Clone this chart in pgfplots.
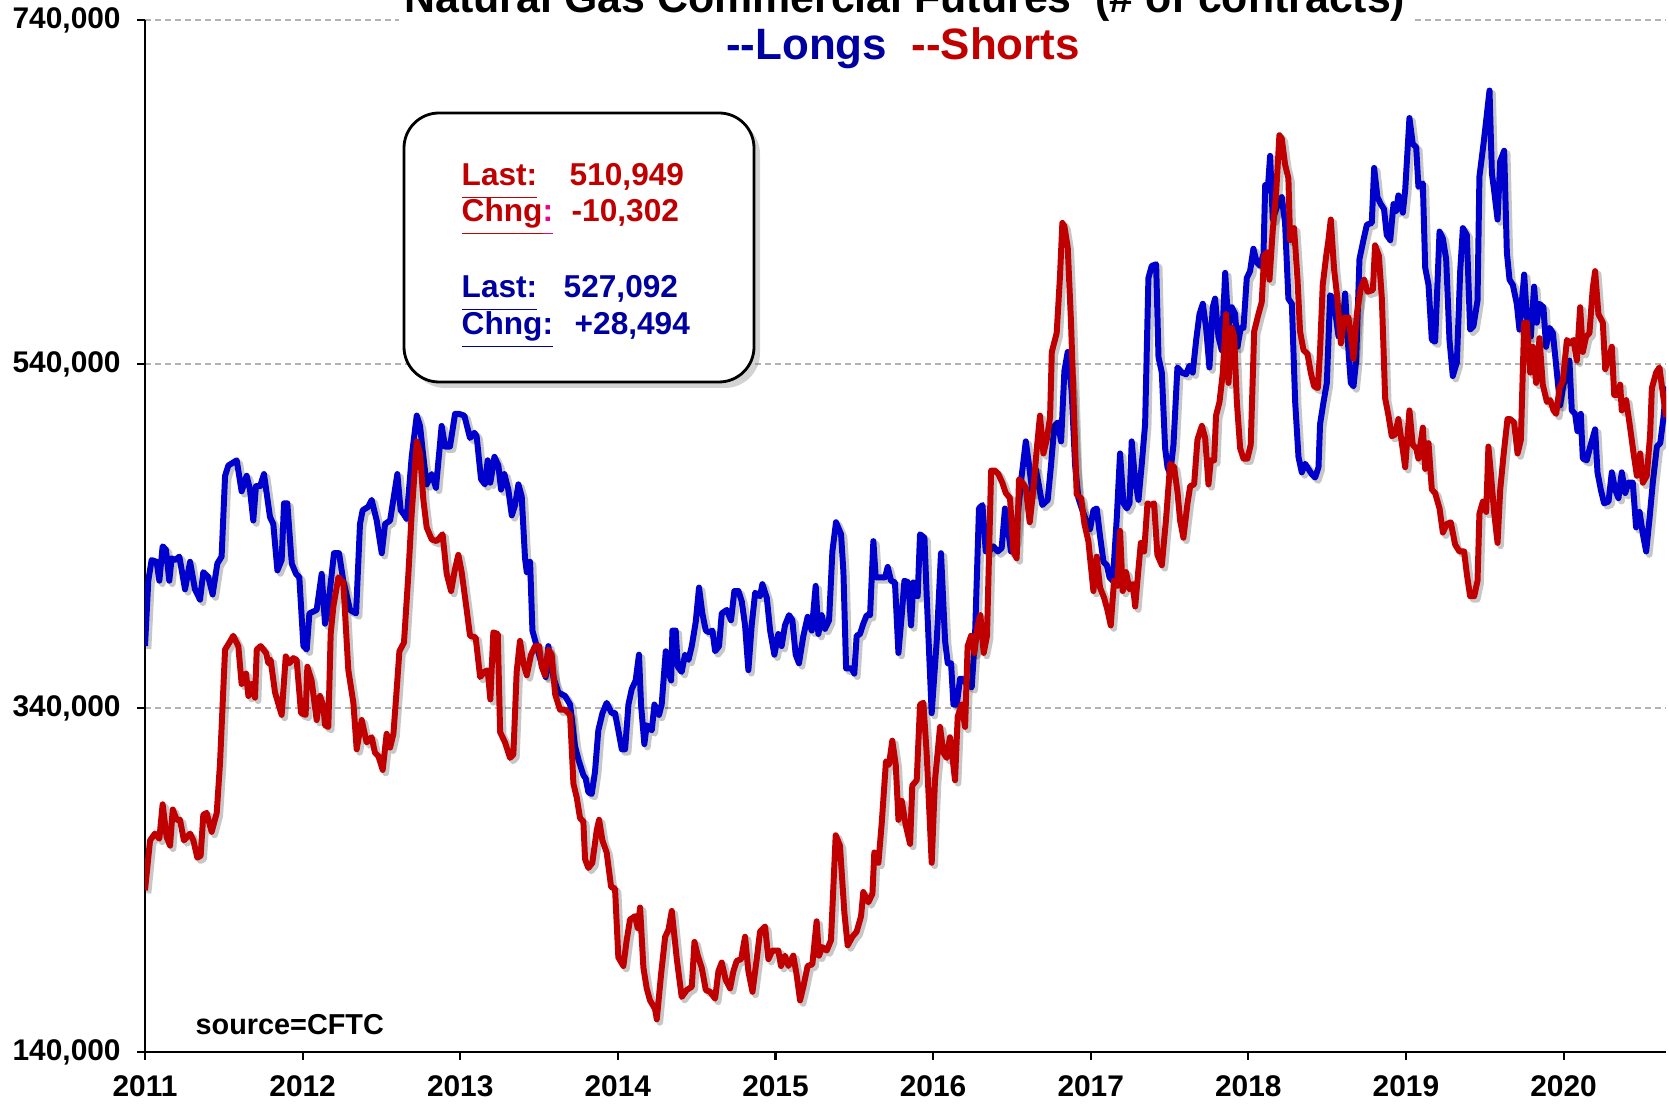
\documentclass[border=0pt]{standalone}
\usepackage{fontspec}
\setmainfont{Liberation Sans}
\usepackage{pgfplots}
\pgfplotsset{compat=1.18}
\usepackage{pgfplotstable}
\usetikzlibrary{shadows}
\definecolor{lblue}{RGB}{0,0,204}
\definecolor{lred}{RGB}{192,0,0}
\definecolor{tblue}{RGB}{0,0,160}
\definecolor{tred}{RGB}{192,0,0}
\newcommand{\myul}[1]{\underline{#1\vphantom{g}}}

\pgfplotstableread{
x y
2011.000 376
2011.021 414
2011.042 426
2011.074 425
2011.091 414
2011.112 434
2011.133 432
2011.154 414
2011.169 427
2011.190 426
2011.218 428
2011.254 409
2011.286 425
2011.317 409
2011.349 403
2011.370 419
2011.402 416
2011.429 406
2011.459 424
2011.486 428
2011.508 475
2011.529 481
2011.582 484
2011.613 466
2011.645 475
2011.666 467
2011.687 449
2011.704 469
2011.730 469
2011.755 476
2011.793 451
2011.814 447
2011.840 420
2011.867 426
2011.882 459
2011.903 459
2011.931 424
2011.958 418
2011.979 416
2012.005 376
2012.026 374
2012.043 395
2012.089 397
2012.121 418
2012.142 389
2012.157 395
2012.199 430
2012.231 430
2012.258 414
2012.301 397
2012.339 395
2012.364 447
2012.381 455
2012.417 457
2012.438 461
2012.470 449
2012.502 430
2012.523 447
2012.555 449
2012.601 476
2012.622 455
2012.639 453
2012.660 450
2012.692 486
2012.724 510
2012.745 504
2012.766 486
2012.787 470
2012.819 476
2012.846 468
2012.882 504
2012.904 492
2012.935 492
2012.967 511
2012.992 511
2013.026 510
2013.062 497
2013.090 500
2013.104 498
2013.132 473
2013.157 470
2013.174 484
2013.191 471
2013.217 486
2013.242 481
2013.259 467
2013.280 476
2013.305 467
2013.327 452
2013.348 458
2013.369 470
2013.390 463
2013.411 427
2013.422 419
2013.443 425
2013.458 385
2013.485 376
2013.521 364
2013.542 358
2013.559 376
2013.576 364
2013.597 356
2013.623 349
2013.665 347
2013.697 342
2013.728 318
2013.750 310
2013.781 301
2013.796 299
2013.813 291
2013.834 290
2013.855 303
2013.876 327
2013.902 337
2013.929 343
2013.961 337
2013.982 337
2014.003 327
2014.025 316
2014.046 316
2014.067 342
2014.088 351
2014.113 356
2014.134 371
2014.147 342
2014.168 319
2014.183 330
2014.215 327
2014.232 342
2014.261 336
2014.278 342
2014.304 373
2014.321 361
2014.338 356
2014.346 385
2014.367 385
2014.380 364
2014.405 361
2014.426 371
2014.448 368
2014.469 376
2014.494 390
2014.515 410
2014.536 395
2014.558 385
2014.579 384
2014.600 385
2014.617 373
2014.642 376
2014.659 395
2014.691 397
2014.718 391
2014.739 408
2014.765 408
2014.786 402
2014.807 388
2014.828 362
2014.849 388
2014.871 407
2014.902 405
2014.917 412
2014.945 404
2014.966 385
2014.993 371
2015.018 383
2015.039 376
2015.060 388
2015.086 394
2015.107 391
2015.128 371
2015.149 366
2015.177 382
2015.204 393
2015.230 385
2015.255 411
2015.272 383
2015.293 394
2015.314 386
2015.340 391
2015.361 431
2015.384 448
2015.416 441
2015.431 419
2015.448 363
2015.483 363
2015.500 360
2015.515 382
2015.536 383
2015.557 389
2015.579 394
2015.600 394
2015.621 437
2015.636 416
2015.663 416
2015.695 416
2015.712 422
2015.733 414
2015.758 413
2015.780 372
2015.801 394
2015.818 414
2015.843 413
2015.860 388
2015.875 413
2015.902 405
2015.917 441
2015.945 439
2015.959 406
2015.991 337
2016.023 379
2016.050 430
2016.076 379
2016.093 366
2016.114 366
2016.129 342
2016.150 342
2016.171 357
2016.186 357
2016.213 354
2016.245 352
2016.266 382
2016.291 456
2016.313 458
2016.334 431
2016.355 431
2016.382 434
2016.410 431
2016.435 433
2016.456 456
2016.478 442
2016.494 431
2016.520 437
2016.562 475
2016.588 495
2016.609 481
2016.630 465
2016.651 479
2016.668 471
2016.693 458
2016.727 461
2016.748 481
2016.769 504
2016.791 506
2016.812 495
2016.833 536
2016.854 547
2016.879 524
2016.901 481
2016.922 462
2016.943 456
2016.975 448
2016.996 444
2017.017 455
2017.038 456
2017.059 440
2017.081 425
2017.102 423
2017.119 416
2017.140 414
2017.165 450
2017.186 488
2017.208 459
2017.229 456
2017.246 459
2017.260 495
2017.282 472
2017.303 461
2017.324 482
2017.345 505
2017.366 590
2017.387 597
2017.415 598
2017.430 544
2017.451 535
2017.472 491
2017.487 480
2017.504 476
2017.525 493
2017.550 538
2017.578 535
2017.605 534
2017.626 539
2017.647 535
2017.669 554
2017.690 569
2017.711 575
2017.732 561
2017.753 538
2017.774 573
2017.789 578
2017.810 556
2017.831 548
2017.853 593
2017.874 561
2017.895 573
2017.916 569
2017.931 550
2017.952 561
2017.969 561
2017.990 590
2018.011 594
2018.032 607
2018.054 599
2018.075 597
2018.096 604
2018.107 644
2018.123 641
2018.138 661
2018.155 624
2018.180 631
2018.212 637
2018.233 622
2018.254 578
2018.276 575
2018.297 518
2018.318 486
2018.339 477
2018.360 482
2018.381 479
2018.402 476
2018.424 474
2018.445 480
2018.455 505
2018.477 518
2018.498 529
2018.519 580
2018.540 578
2018.572 556
2018.593 556
2018.614 581
2018.635 548
2018.650 529
2018.667 527
2018.684 542
2018.705 601
2018.730 612
2018.752 621
2018.783 622
2018.798 654
2018.819 637
2018.840 633
2018.861 630
2018.878 615
2018.900 612
2018.921 633
2018.938 629
2018.952 638
2018.980 628
2018.995 641
2019.022 683
2019.043 668
2019.065 666
2019.079 643
2019.107 645
2019.122 596
2019.143 586
2019.164 554
2019.185 553
2019.213 617
2019.234 613
2019.255 601
2019.276 554
2019.297 533
2019.323 541
2019.344 594
2019.361 619
2019.386 615
2019.407 560
2019.428 562
2019.454 577
2019.466 649
2019.492 668
2019.513 685
2019.530 699
2019.545 651
2019.559 641
2019.581 624
2019.598 658
2019.623 664
2019.640 605
2019.657 589
2019.678 586
2019.703 575
2019.720 560
2019.750 592
2019.767 567
2019.792 556
2019.813 585
2019.830 564
2019.847 575
2019.872 573
2019.889 550
2019.911 561
2019.932 558
2019.953 539
2019.978 516
2019.999 528
2020.021 533
2020.037 542
2020.052 513
2020.073 511
2020.088 501
2020.109 511
2020.122 485
2020.147 484
2020.169 492
2020.200 502
2020.215 477
2020.236 467
2020.257 459
2020.285 460
2020.306 477
2020.327 467
2020.348 462
2020.369 477
2020.391 465
2020.412 471
2020.439 471
2020.460 445
2020.482 454
2020.503 441
2020.524 431
2020.545 450
2020.566 471
2020.592 492
2020.613 494
2020.634 509
2020.651 527
}\longs

\pgfplotstableread{
x y
2011.000 234
2011.032 263
2011.063 267
2011.091 264
2011.112 284
2011.137 265
2011.159 260
2011.176 281
2011.201 275
2011.222 275
2011.247 263
2011.286 267
2011.307 263
2011.332 253
2011.353 254
2011.370 278
2011.391 279
2011.423 268
2011.455 279
2011.476 308
2011.508 374
2011.535 378
2011.560 382
2011.592 376
2011.613 354
2011.641 360
2011.656 347
2011.677 354
2011.698 346
2011.709 374
2011.734 376
2011.768 372
2011.783 366
2011.797 368
2011.825 349
2011.867 336
2011.893 370
2011.916 366
2011.941 369
2011.962 368
2011.990 337
2012.019 336
2012.030 364
2012.057 356
2012.089 333
2012.110 347
2012.132 341
2012.142 330
2012.163 329
2012.178 383
2012.195 399
2012.227 416
2012.258 413
2012.290 362
2012.322 343
2012.343 316
2012.375 333
2012.406 320
2012.438 323
2012.459 314
2012.481 312
2012.508 304
2012.533 325
2012.555 317
2012.576 325
2012.597 351
2012.614 373
2012.643 378
2012.671 418
2012.692 453
2012.724 495
2012.745 488
2012.766 461
2012.787 445
2012.819 438
2012.850 437
2012.888 441
2012.914 418
2012.942 408
2012.967 421
2012.988 429
2013.009 419
2013.041 397
2013.062 382
2013.098 381
2013.126 358
2013.153 361
2013.174 362
2013.191 345
2013.210 384
2013.238 383
2013.253 326
2013.284 320
2013.316 311
2013.337 313
2013.358 361
2013.379 379
2013.401 366
2013.422 359
2013.449 371
2013.475 376
2013.500 376
2013.517 364
2013.538 359
2013.559 374
2013.580 371
2013.602 348
2013.633 339
2013.665 339
2013.697 336
2013.718 296
2013.739 288
2013.760 276
2013.781 274
2013.792 252
2013.813 247
2013.838 250
2013.866 269
2013.881 275
2013.902 263
2013.929 256
2013.957 236
2013.982 235
2014.003 195
2014.035 190
2014.056 205
2014.077 217
2014.109 219
2014.126 212
2014.141 224
2014.162 189
2014.183 177
2014.204 170
2014.236 165
2014.247 159
2014.274 185
2014.300 207
2014.321 211
2014.342 222
2014.374 194
2014.405 172
2014.437 176
2014.469 178
2014.486 204
2014.507 196
2014.532 189
2014.558 176
2014.585 175
2014.617 171
2014.638 187
2014.659 192
2014.684 182
2014.712 177
2014.733 187
2014.754 193
2014.782 194
2014.807 207
2014.828 187
2014.854 175
2014.881 194
2014.902 210
2014.934 213
2014.955 194
2014.980 199
2015.018 199
2015.035 190
2015.060 196
2015.082 190
2015.113 196
2015.134 185
2015.156 170
2015.177 178
2015.204 190
2015.234 191
2015.261 216
2015.276 196
2015.297 201
2015.325 199
2015.352 205
2015.382 266
2015.409 260
2015.437 221
2015.458 202
2015.488 207
2015.515 210
2015.543 219
2015.557 233
2015.589 227
2015.615 232
2015.627 256
2015.653 250
2015.674 273
2015.701 309
2015.720 307
2015.741 321
2015.763 307
2015.780 275
2015.801 286
2015.826 272
2015.854 261
2015.868 295
2015.896 298
2015.917 342
2015.938 343
2015.959 314
2015.991 250
2016.012 298
2016.044 329
2016.065 314
2016.086 311
2016.107 323
2016.122 312
2016.139 298
2016.156 335
2016.181 342
2016.203 329
2016.219 376
2016.241 382
2016.262 372
2016.283 388
2016.300 394
2016.321 372
2016.342 382
2016.368 478
2016.393 478
2016.414 476
2016.439 471
2016.461 465
2016.488 462
2016.509 431
2016.530 427
2016.545 473
2016.566 471
2016.588 468
2016.613 448
2016.636 467
2016.657 490
2016.678 510
2016.700 488
2016.721 496
2016.742 509
2016.753 547
2016.784 558
2016.805 591
2016.820 622
2016.833 620
2016.854 608
2016.875 564
2016.896 506
2016.911 464
2016.939 462
2016.960 447
2016.985 437
2017.017 408
2017.038 428
2017.059 410
2017.085 404
2017.106 397
2017.127 388
2017.148 414
2017.169 411
2017.186 443
2017.203 408
2017.224 419
2017.246 409
2017.267 412
2017.282 399
2017.303 421
2017.318 436
2017.339 431
2017.360 459
2017.381 458
2017.402 459
2017.423 429
2017.451 423
2017.478 450
2017.504 482
2017.529 480
2017.550 466
2017.567 449
2017.588 439
2017.614 459
2017.631 469
2017.656 470
2017.677 496
2017.705 504
2017.726 497
2017.747 470
2017.762 484
2017.783 484
2017.795 510
2017.817 518
2017.838 535
2017.859 569
2017.874 529
2017.895 561
2017.910 556
2017.927 518
2017.948 491
2017.969 485
2017.994 485
2018.015 493
2018.037 559
2018.064 569
2018.085 576
2018.100 603
2018.121 605
2018.134 589
2018.155 618
2018.176 639
2018.197 673
2018.212 671
2018.233 656
2018.254 648
2018.265 612
2018.290 619
2018.312 589
2018.328 559
2018.350 548
2018.375 546
2018.396 535
2018.417 527
2018.441 526
2018.455 548
2018.472 586
2018.494 603
2018.508 612
2018.523 624
2018.544 595
2018.565 578
2018.587 552
2018.608 567
2018.635 567
2018.656 552
2018.667 543
2018.688 569
2018.713 584
2018.735 589
2018.756 582
2018.790 583
2018.804 609
2018.828 603
2018.847 578
2018.868 520
2018.889 510
2018.910 498
2018.931 499
2018.952 508
2018.980 490
2018.995 480
2019.022 513
2019.043 493
2019.065 491
2019.079 485
2019.107 503
2019.122 479
2019.143 494
2019.164 467
2019.185 465
2019.213 456
2019.234 442
2019.259 447
2019.284 448
2019.312 435
2019.339 431
2019.369 431
2019.386 418
2019.407 405
2019.433 405
2019.454 414
2019.466 453
2019.488 460
2019.509 454
2019.523 492
2019.538 477
2019.559 454
2019.581 436
2019.598 467
2019.619 487
2019.644 508
2019.661 508
2019.686 506
2019.708 488
2019.729 496
2019.750 564
2019.767 564
2019.788 535
2019.805 550
2019.826 529
2019.847 555
2019.868 528
2019.894 518
2019.915 519
2019.936 513
2019.953 511
2019.974 526
2019.995 530
2020.021 554
2020.042 552
2020.063 554
2020.084 542
2020.105 573
2020.122 547
2020.143 556
2020.164 558
2020.185 584
2020.200 594
2020.221 569
2020.249 564
2020.264 537
2020.285 543
2020.306 550
2020.321 522
2020.342 522
2020.359 528
2020.369 513
2020.397 519
2020.422 503
2020.444 488
2020.465 475
2020.486 488
2020.503 471
2020.528 475
2020.549 499
2020.560 526
2020.587 535
2020.608 538
2020.634 520
2020.651 509
}\shorts

\begin{document}
\begin{tikzpicture}[x=1mm,y=1mm]
\begin{axis}[
  at={(14.5mm,5.1mm)}, anchor=south west,
  scale only axis, width=152.1mm, height=103.2mm,
  xmin=2011, xmax=2020.65, ymin=140, ymax=740,
  axis x line*=bottom, axis y line*=left,
  xtick={2011,2012,2013,2014,2015,2016,2017,2018,2019,2020},
  xticklabels={2011,2012,2013,2014,2015,2016,2017,2018,2019,2020},
  ytick={140,340,540,740},
  yticklabels={{140,000},{340,000},{540,000},{740,000}},
  tick align=outside, major tick length=0.8mm,
  tick style={black, line width=0.6pt},
  axis line style={black, line width=0.6pt},
  ymajorgrids, grid style={black!30, dash pattern=on 0.6mm off 0.4mm, line width=0.4pt},
  tick label style={font=\bfseries\fontsize{8.5}{10}\selectfont},
  yticklabel style={xshift=-0.4mm},
  xticklabel style={yshift=-0.3mm},
  /pgf/number format/assume math mode=true,
]
\addplot[black, opacity=0.22, line width=1.9pt, line join=round, no markers, transform canvas={xshift=0.3mm,yshift=-0.3mm}] table {\longs};
\addplot[lblue, line width=1.7pt, line join=round, no markers] table {\longs};
\addplot[black, opacity=0.22, line width=1.9pt, line join=round, no markers, transform canvas={xshift=0.3mm,yshift=-0.3mm}] table {\shorts};
\addplot[lred, line width=1.7pt, line join=round, no markers] table {\shorts};
\end{axis}

\node[anchor=base, fill=white, inner xsep=0.6mm, inner ysep=0.8mm, font=\bfseries\fontsize{12.2}{14}\selectfont] at (90.5,109) {Natural Gas Commercial Futures\ \ (\# of contracts)};
\node[anchor=base, inner sep=0, font=\bfseries\fontsize{12.5}{14}\selectfont] at (90.3,104.3) {\textcolor{tblue}{-{}-Longs}\ \ \textcolor{tred}{-{}-Shorts}};

\draw[rounded corners=3.5mm, line width=0.8pt, fill=white, drop shadow={shadow xshift=0.6mm, shadow yshift=-0.6mm, opacity=0.35}] (40.4,72.1) rectangle (75.4,99.0);

\begin{scope}[every node/.style={anchor=base west, inner sep=0, font=\bfseries\fontsize{9}{11}\selectfont}]
\node[text=tred] at (46.1,91.7) {\myul{Last:}};
\node[text=tred] at (56.9,91.7) {510,949};
\node[text=tred] at (46.1,88.1) {\myul{Chng}\textcolor{magenta}{\myul{:}}};
\node[text=tred] at (57.1,88.1) {-10,302};
\node[text=tblue] at (46.1,80.5) {\myul{Last:}};
\node[text=tblue] at (56.3,80.5) {527,092};
\node[text=tblue] at (46.1,76.8) {\myul{Chng:}};
\node[text=tblue] at (57.4,76.8) {+28,494};
\end{scope}

\node[anchor=base west, inner sep=0, font=\bfseries\fontsize{8.2}{10}\selectfont] at (19.5,6.8) {source=CFTC};

\pgfresetboundingbox
\useasboundingbox (0,0) rectangle (166.9,110.3);
\end{tikzpicture}
\end{document}
